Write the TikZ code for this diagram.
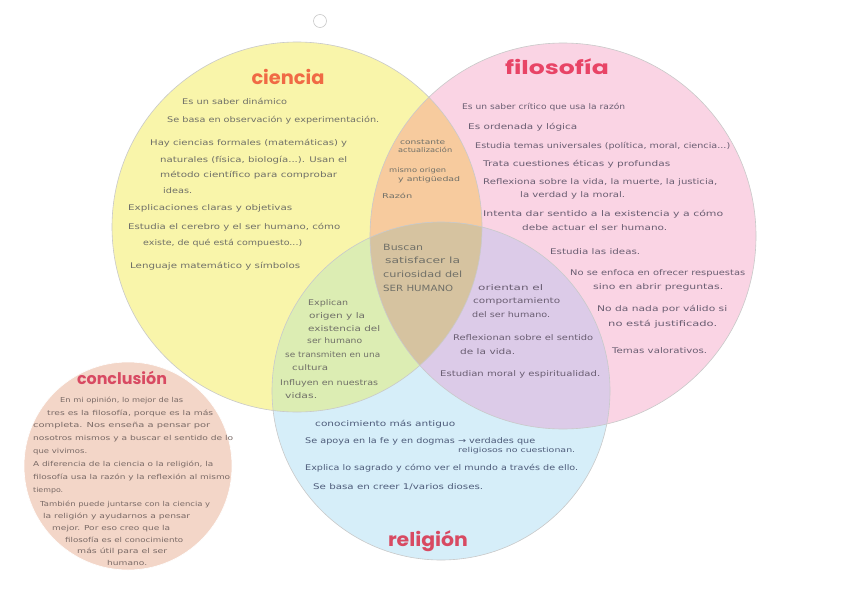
\documentclass[tikz,border=0pt]{standalone}
\usepackage{fontspec}
\usepackage{graphicx}
\setmainfont{DejaVu Sans}
\newfontfamily\titlefont{Poppins}
\newcommand{\fw}[2]{\resizebox{#1pt}{\height}{#2}}
\definecolor{yel}{HTML}{F9F5AA}
\definecolor{pnk}{HTML}{FAD4E4}
\definecolor{blu}{HTML}{D6EEF9}
\definecolor{orn}{HTML}{F7CB9E}
\definecolor{grn}{HTML}{DCEDB3}
\definecolor{pur}{HTML}{DCCBE8}
\definecolor{brn}{HTML}{D6C3A0}
\definecolor{con}{HTML}{F3D6C8}
\definecolor{edge}{HTML}{C9C9C9}
\definecolor{tgray}{HTML}{707068}
\definecolor{tpur}{HTML}{6A5E72}
\definecolor{tblu}{HTML}{4E5C7A}
\definecolor{tcon}{HTML}{7A6A66}
\definecolor{tciencia}{HTML}{F06A45}
\definecolor{tfilo}{HTML}{E84466}
\definecolor{trel}{HTML}{D84A62}
\begin{document}
\begin{tikzpicture}[x=1pt,y=-1pt,
  txt/.style={anchor=base west, inner sep=0pt, font=\fontsize{7.8}{9}\selectfont, text=tgray},
  txtp/.style={txt, text=tpur},
  txtb/.style={txt, text=tblu},
  txtc/.style={anchor=base west, inner sep=0pt, font=\fontsize{6.8}{8}\selectfont, text=tcon},
  ttl/.style={inner sep=0pt, font=\titlefont\bfseries\fontsize{19}{20}\selectfont},
  ring/.style={draw=edge, line width=0.6pt}]
\useasboundingbox (0,0) rectangle (848,599);
\fill[white] (0,0) rectangle (848,599);
% circles
\coordinate (cc) at (297,227);
\coordinate (pc) at (563,236);
\coordinate (bc) at (441,391);
\coordinate (kc) at (128,466);
\fill[yel] (cc) circle[radius=185pt];
\fill[pnk] (pc) circle[radius=193pt];
\fill[blu] (bc) circle[radius=169pt];
\begin{scope}
  \clip (cc) circle[radius=185pt];
  \fill[orn] (pc) circle[radius=193pt];
  \fill[grn] (bc) circle[radius=169pt];
\end{scope}
\begin{scope}
  \clip (pc) circle[radius=193pt];
  \fill[pur] (bc) circle[radius=169pt];
\end{scope}
\begin{scope}
  \clip (cc) circle[radius=185pt];
  \clip (pc) circle[radius=193pt];
  \fill[brn] (bc) circle[radius=169pt];
\end{scope}
\draw[ring] (cc) circle[radius=185pt];
\draw[ring] (pc) circle[radius=193pt];
\draw[ring] (bc) circle[radius=169pt];
\fill[con] (kc) circle[radius=104pt];
\draw[ring, draw=white] (kc) circle[radius=104pt];
\draw[edge, line width=0.6pt] (320,21) circle[radius=6.5pt];
% titles
\node[ttl, text=tciencia] (tc) at (288,77) {\fw{73}{ciencia}};
\node[ttl, text=tfilo] (tf) at (557,67) {\fw{104}{filosofía}};
\node[ttl, text=trel] (tr) at (428,541) {\fw{80}{religión}};
\node[ttl, text=trel, font=\titlefont\bfseries\fontsize{16}{17}\selectfont] (tk) at (122,378) {\fw{90}{conclusión}};
% ciencia
\node[txt] (c1) at (182,105) {\fw{105}{Es un saber dinámico}};
\node[txt] (c2) at (167,123) {\fw{212}{Se basa en observación y experimentación.}};
\node[txt] (c3) at (150,146) {\fw{197}{Hay ciencias formales (matemáticas) y}};
\node[txt] (c4) at (160,162) {\fw{187}{naturales (física, biología...). Usan el}};
\node[txt] (c5) at (160,177) {\fw{177}{método científico para comprobar}};
\node[txt] (c6) at (163,193) {\fw{29}{ideas.}};
\node[txt] (c7) at (128,210) {\fw{164}{Explicaciones claras y objetivas}};
\node[txt] (c8) at (128,229) {\fw{212}{Estudia el cerebro y el ser humano, cómo}};
\node[txt] (c9) at (143,245) {\fw{159}{existe, de qué está compuesto...)}};
\node[txt] (c10) at (130,268) {\fw{170}{Lenguaje matemático y símbolos}};
% ciencia + filosofia
\node[txt, font=\fontsize{6.6}{8}\selectfont] (o1) at (400,144) {\fw{45}{constante}};
\node[txt, font=\fontsize{6.6}{8}\selectfont] (o2) at (398,153) {\fw{54}{actualización}};
\node[txt, font=\fontsize{6.6}{8}\selectfont] (o3) at (389,172) {\fw{57}{mismo origen}};
\node[txt, font=\fontsize{6.6}{8}\selectfont] (o4) at (398,181) {\fw{62}{y antigüedad}};
\node[txt, font=\fontsize{6.6}{8}\selectfont] (o5) at (382,198) {\fw{30}{Razón}};
% centre
\node[txt, font=\fontsize{8.6}{10}\selectfont] (m1) at (383,250) {\fw{40}{Buscan}};
\node[txt, font=\fontsize{8.6}{10}\selectfont] (m2) at (385,263) {\fw{75}{satisfacer la}};
\node[txt, font=\fontsize{8.6}{10}\selectfont] (m3) at (383,277) {\fw{79}{curiosidad del}};
\node[txt, font=\fontsize{8.6}{10}\selectfont] (m4) at (383,291) {\fw{70}{SER HUMANO}};
% ciencia + religion
\node[txt] (g1) at (308,305) {\fw{40}{Explican}};
\node[txt] (g2) at (309,318) {\fw{56}{origen y la}};
\node[txt] (g3) at (308,331) {\fw{72}{existencia del}};
\node[txt] (g4) at (307,343) {\fw{55}{ser humano}};
\node[txt] (g5) at (285,357) {\fw{95}{se transmiten en una}};
\node[txt] (g6) at (292,370) {\fw{36}{cultura}};
\node[txt] (g7) at (280,385) {\fw{98}{Influyen en nuestras}};
\node[txt] (g8) at (285,398) {\fw{32}{vidas.}};
% filosofia + religion
\node[txtp] (q1) at (478,290) {\fw{65}{orientan el}};
\node[txtp] (q2) at (473,303) {\fw{87}{comportamiento}};
\node[txtp] (q3) at (472,317) {\fw{78}{del ser humano.}};
\node[txtp] (q4) at (453,340) {\fw{140}{Reflexionan sobre el sentido}};
\node[txtp] (q5) at (460,354) {\fw{55}{de la vida.}};
\node[txtp] (q6) at (440,376) {\fw{160}{Estudian moral y espiritualidad.}};
% filosofia
\node[txtp] (f1) at (462,110) {\fw{163}{Es un saber crítico que usa la razón}};
\node[txtp] (f2) at (468,130) {\fw{109}{Es ordenada y lógica}};
\node[txtp] (f3) at (475,149) {\fw{255}{Estudia temas universales (política, moral, ciencia...)}};
\node[txtp] (f4) at (483,166) {\fw{187}{Trata cuestiones éticas y profundas}};
\node[txtp] (f5) at (483,184) {\fw{234}{Reflexiona sobre la vida, la muerte, la justicia,}};
\node[txtp] (f6) at (520,197) {\fw{105}{la verdad y la moral.}};
\node[txtp] (f7) at (483,216) {\fw{240}{Intenta dar sentido a la existencia y a cómo}};
\node[txtp] (f8) at (522,230) {\fw{145}{debe actuar el ser humano.}};
\node[txtp] (f9) at (550,254) {\fw{90}{Estudia las ideas.}};
\node[txtp] (f10) at (570,275) {\fw{175}{No se enfoca en ofrecer respuestas}};
\node[txtp] (f11) at (593,289) {\fw{130}{sino en abrir preguntas.}};
\node[txtp] (f12) at (597,311) {\fw{130}{No da nada por válido si}};
\node[txtp] (f13) at (608,326) {\fw{109}{no está justificado.}};
\node[txtp] (f14) at (612,353) {\fw{95}{Temas valorativos.}};
% religion
\node[txtb] (r1) at (315,426) {\fw{140}{conocimiento más antiguo}};
\node[txtb] (r2) at (305,443) {\fw{230}{Se apoya en la fe y en dogmas → verdades que}};
\node[txtb, font=\fontsize{6.8}{8}\selectfont] (r3) at (458,452) {\fw{117}{religiosos no cuestionan.}};
\node[txtb] (r4) at (305,470) {\fw{273}{Explica lo sagrado y cómo ver el mundo a través de ello.}};
\node[txtb] (r5) at (313,489) {\fw{170}{Se basa en creer 1/varios dioses.}};
% conclusion
\node[txtc] (k1) at (60,402) {\fw{123}{En mi opinión, lo mejor de las}};
\node[txtc] (k2) at (47,415) {\fw{166}{tres es la filosofía, porque es la más}};
\node[txtc] (k3) at (33,427) {\fw{177}{completa. Nos enseña a pensar por}};
\node[txtc] (k4) at (33,440) {\fw{200}{nosotros mismos y a buscar el sentido de lo}};
\node[txtc] (k5) at (33,453) {\fw{54}{que vivimos.}};
\node[txtc] (k6) at (33,466) {\fw{180}{A diferencia de la ciencia o la religión, la}};
\node[txtc] (k7) at (33,479) {\fw{197}{filosofía usa la razón y la reflexión al mismo}};
\node[txtc] (k8) at (33,492) {\fw{30}{tiempo.}};
\node[txtc] (k9) at (40,506) {\fw{170}{También puede juntarse con la ciencia y}};
\node[txtc] (k10) at (43,518) {\fw{147}{la religión y ayudarnos a pensar}};
\node[txtc] (k11) at (52,530) {\fw{118}{mejor. Por eso creo que la}};
\node[txtc] (k12) at (65,542) {\fw{118}{filosofía es el conocimiento}};
\node[txtc] (k13) at (77,553) {\fw{90}{más útil para el ser}};
\node[txtc] (k14) at (107,565) {\fw{40}{humano.}};
\end{tikzpicture}
\end{document}
